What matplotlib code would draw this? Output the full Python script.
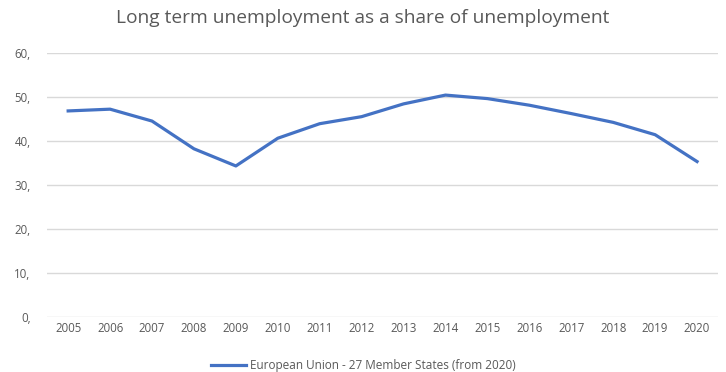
import matplotlib.pyplot as plt
from matplotlib.ticker import FuncFormatter

years = ['2005', '2006', '2007', '2008', '2009', '2010', '2011', '2012',
         '2013', '2014', '2015', '2016', '2017', '2018', '2019', '2020']
share = [46.8, 47.2, 44.5, 38.2, 34.3, 40.6, 43.9, 45.5,
         48.4, 50.4, 49.6, 48.1, 46.2, 44.2, 41.4, 35.3]

plt.rcParams['font.family'] = ['Open Sans', 'DejaVu Sans']

fig = plt.figure(figsize=(7.26, 3.72), dpi=100)
ax = fig.add_axes([0.065, 0.148, 0.924, 0.71])

x = list(range(len(years)))
ax.plot(x, share, color='#4472C4', linewidth=2.3,
        label='European Union - 27 Member States (from 2020)')

ax.set_xlim(-0.5, len(years) - 0.5)
ax.set_ylim(0, 60)
ax.set_yticks(range(0, 61, 10))
ax.yaxis.set_major_formatter(FuncFormatter(lambda v, p: f"{int(v)},"))
ax.set_xticks(x)
ax.set_xticklabels(years)
ax.grid(axis='y', color='#d9d9d9', linewidth=1)
ax.set_axisbelow(True)
for s in ax.spines.values():
    s.set_visible(False)
ax.tick_params(length=0, colors='#595959', labelsize=8.3)
ax.tick_params(axis='y', pad=12)

fig.suptitle('Long term unemployment as a share of unemployment',
             y=0.975, fontsize=13.8, color='#595959')
fig.legend(loc='lower center', bbox_to_anchor=(0.5, -0.028), frameon=False,
           fontsize=8.5, labelcolor='#595959', handlelength=3, handletextpad=0.3)

fig.savefig('out.png', dpi=100)
